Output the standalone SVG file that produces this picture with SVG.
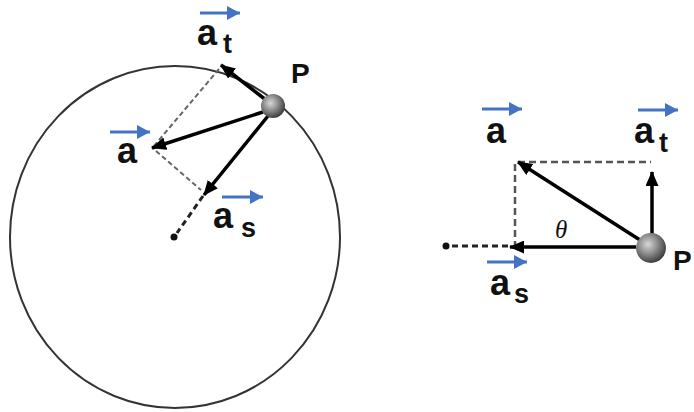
<svg xmlns="http://www.w3.org/2000/svg" width="694" height="412" viewBox="0 0 694 412">
<defs>
<marker id="bh" markerUnits="userSpaceOnUse" markerWidth="15" markerHeight="13" refX="14" refY="6.5" orient="auto"><path d="M0,0 L15,6.5 L0,13 z" fill="#000"/></marker>
<marker id="uh" markerUnits="userSpaceOnUse" markerWidth="13" markerHeight="14" refX="13" refY="7" orient="auto"><path d="M0,0 L13,7 L0,14 z" fill="#4472C4"/></marker>
<radialGradient id="ball" cx="0.4" cy="0.38" r="0.65">
<stop offset="0" stop-color="#d8d8d8"/>
<stop offset="0.5" stop-color="#8a8a8a"/>
<stop offset="1" stop-color="#3a3a3a"/>
</radialGradient>
</defs>
<style>
.lbl{font-family:"Liberation Sans",Arial,sans-serif;font-weight:bold;fill:#111}
.main{font-size:36px}
.sub{font-size:27px}
.vec{stroke:#000;stroke-width:3.5;fill:none;marker-end:url(#bh)}
.blue{stroke:#4472C4;stroke-width:3;fill:none;marker-end:url(#uh)}
.gdash{stroke:#666;stroke-width:2;stroke-dasharray:5,3;fill:none}
.rdash{stroke:#555;stroke-width:2.5;stroke-dasharray:7,4;fill:none}
.kdash{stroke:#222;stroke-width:3;stroke-dasharray:6,4;fill:none}
</style>
<rect width="694" height="412" fill="#fff"/>
<g id="orbit"><ellipse cx="175" cy="237" rx="165" ry="171" fill="none" stroke="#333" stroke-width="2"/></g>
<g id="connectors">
<line class="gdash" x1="219" y1="69" x2="154" y2="146"/>
<line class="gdash" x1="156" y1="151" x2="201" y2="190"/>
<line class="kdash" x1="203" y1="196" x2="177" y2="233"/>
<line class="vec" x1="266" y1="100" x2="221" y2="65"/>
<line class="vec" x1="263" y1="112" x2="152" y2="148"/>
<line class="vec" x1="268" y1="116" x2="204" y2="195"/>
<line class="rdash" x1="518" y1="162" x2="651" y2="162"/>
<line class="rdash" x1="515" y1="164" x2="515" y2="246"/>
<line class="kdash" x1="508" y1="246" x2="450" y2="246"/>
<line class="vec" x1="636" y1="247" x2="510" y2="247"/>
<line class="vec" x1="652" y1="234" x2="652" y2="172"/>
<line class="vec" x1="640" y1="240" x2="518" y2="162"/>
</g>
<g id="center-left"><circle cx="174" cy="237" r="3.5" fill="#111"/></g>
<g id="center-right"><circle cx="446" cy="246" r="3.5" fill="#111"/></g>
<g id="P-left"><circle cx="273" cy="106" r="12" fill="url(#ball)"/><text class="lbl" x="291" y="83" font-size="28">P</text></g>
<g id="P-right"><circle cx="651" cy="248" r="15" fill="url(#ball)"/><text class="lbl" x="673" y="270" font-size="28">P</text></g>
<g id="label-at-left"><line class="blue" x1="200" y1="13" x2="240" y2="13"/><text class="lbl" x="197"><tspan class="main" y="45">a</tspan><tspan class="sub" y="53" dx="6">t</tspan></text></g>
<g id="label-a-left"><line class="blue" x1="110" y1="132" x2="150" y2="132"/><text class="lbl main" x="117" y="163">a</text></g>
<g id="label-as-left"><line class="blue" x1="222" y1="197" x2="263" y2="197"/><text class="lbl" x="213"><tspan class="main" y="228">a</tspan><tspan class="sub" y="237" dx="8">s</tspan></text></g>
<g id="label-a-right"><line class="blue" x1="482" y1="109" x2="522" y2="109"/><text class="lbl main" x="486" y="143">a</text></g>
<g id="label-at-right"><line class="blue" x1="638" y1="110" x2="678" y2="110"/><text class="lbl" x="634"><tspan class="main" y="143">a</tspan><tspan class="sub" y="152" dx="5">t</tspan></text></g>
<g id="label-as-right"><line class="blue" x1="487" y1="262" x2="527" y2="262"/><text class="lbl" x="490"><tspan class="main" y="295">a</tspan><tspan class="sub" y="303" dx="4">s</tspan></text></g>
<g id="label-theta"><text x="555" y="238" font-family="Liberation Serif,serif" font-style="italic" font-size="25" fill="#111">θ</text></g>
</svg>
